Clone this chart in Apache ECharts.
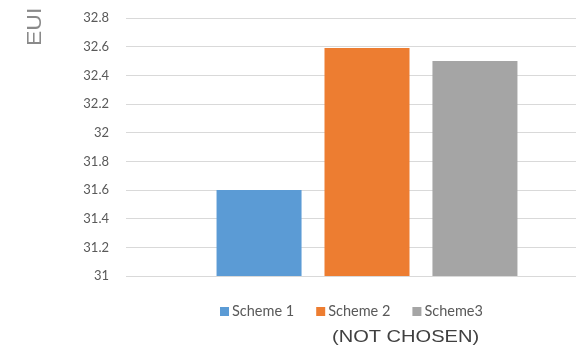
<!DOCTYPE html>
<html><head><meta charset="utf-8">
<script src="https://cdn.jsdelivr.net/npm/echarts@6/dist/echarts.min.js"></script>
<style>html,body{margin:0;padding:0;background:#fff}#c{width:576px;height:347px}</style>
</head><body><div id="c"></div>
<script>
const categories = [''];
const seriesNames = ['Scheme 1', 'Scheme 2', 'Scheme3'];
const seriesValues = [[31.6], [32.59], [32.5]];
const seriesColors = ['#5B9BD5', '#ED7D31', '#A5A5A5'];
const yMin = 31, yMax = 32.8, yStep = 0.2;

const chart = echarts.init(document.getElementById('c'), null, {renderer: 'canvas'});
chart.setOption({
  animation: false,
  backgroundColor: '#fff',
  grid: {left: 126, top: 18, width: 482, bottom: 71, containLabel: false, outerBoundsMode: 'none'},
  legend: {
    data: seriesNames, bottom: 28, left: 220, padding: 0, itemWidth: 9, itemHeight: 9, itemGap: 22,
    icon: 'rect',
    textStyle: {color: '#595959', fontSize: 14.5, fontFamily: 'Lato', padding: [0,0,0,-2]}
  },
  xAxis: {type: 'category', data: categories, axisLine: {show: false}, axisTick: {show: false}, axisLabel: {show: false}},
  yAxis: {
    type: 'value', min: yMin, max: yMax, interval: yStep,
    axisLine: {show: false}, axisTick: {show: false},
    axisLabel: {color: '#595959', fontSize: 13, fontFamily: 'Lato', margin: 17},
    splitLine: {lineStyle: {color: '#D9D9D9', width: 1}}
  },
  series: seriesNames.map((n, i) => ({
    name: n, type: 'bar', data: seriesValues[i], barWidth: 85, barGap: '27%',
    itemStyle: {color: seriesColors[i]}
  })),
  graphic: [
    {type: 'text', x: 332, y: 329, scaleX: 1.18, style: {text: '(NOT CHOSEN)', fontSize: 17, fontFamily: 'Liberation Sans', fill: '#404040'}},
    {type: 'text', x: 35, y: 46, rotation: Math.PI / 2, scaleX: 1.15, style: {text: 'EUI', fontSize: 20, fontFamily: 'Liberation Sans', fill: '#8a8a8a', textAlign: 'left', textVerticalAlign: 'middle'}}
  ]
});
</script></body></html>
